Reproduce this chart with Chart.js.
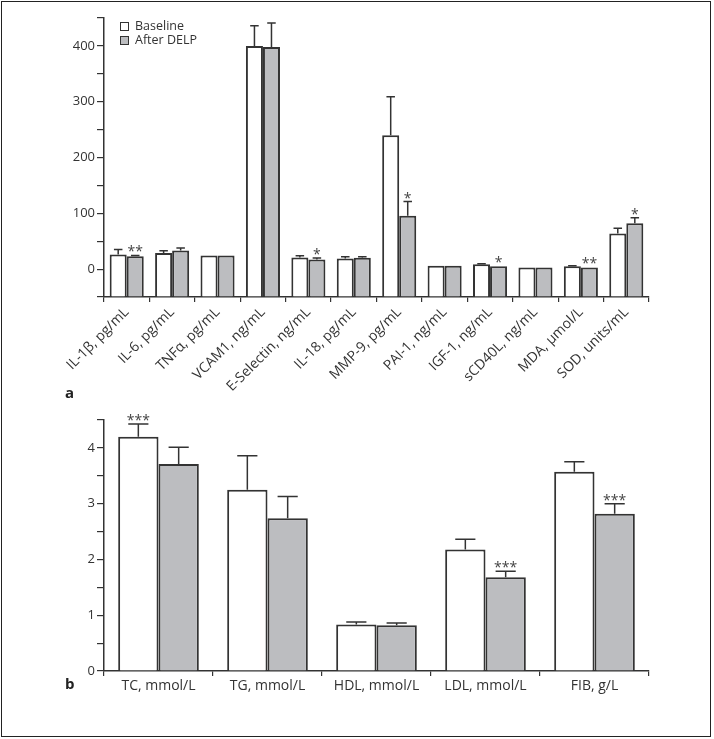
<!DOCTYPE html>
<html>
<head>
<meta charset="utf-8">
<script src="https://cdn.jsdelivr.net/npm/chart.js@4.4.1/dist/chart.umd.min.js"></script>
<style>
  body { margin: 0; background: #fff; width: 714px; height: 739px; position: relative; overflow: hidden; font-family: "Open Sans", sans-serif; color: #333; }
  #frame { position: absolute; left: 1px; top: 1px; width: 710px; height: 736px; box-sizing: border-box; border: 1.5px solid #222; pointer-events: none; }
  #wrapA { position: absolute; left: 0; top: 0; width: 714px; height: 420px; }
  #wrapB { position: absolute; left: 0; top: 380px; width: 714px; height: 359px; }
  .legend { position: absolute; left: 120px; font-size: 12.5px; line-height: 14px; }
  .legend span.box { display: inline-block; width: 9px; height: 9px; box-sizing: border-box; border: 1.3px solid #333; margin-right: 6px; vertical-align: -1px; }
  .panel { position: absolute; font-weight: bold; font-size: 15px; color: #222; }
</style>
</head>
<body>
<div id="wrapA"><canvas id="chartA"></canvas></div>
<div id="wrapB"><canvas id="chartB"></canvas></div>
<div class="legend" style="top:19px"><span class="box" style="background:#fff"></span>Baseline</div>
<div class="legend" style="top:33px"><span class="box" style="background:#bcbdc0"></span>After DELP</div>
<div class="panel" style="left:65px; top:382px">a</div>
<div class="panel" style="left:65px; top:673px">b</div>
<div id="frame"></div>
<script>
// panel a
var labelsA = ['IL-1β, pg/mL', 'IL-6, pg/mL', 'TNFα, pg/mL', 'VCAM1, ng/mL', 'E-Selectin, ng/mL', 'IL-18, pg/mL',
  'MMP-9, pg/mL', 'PAI-1, ng/mL', 'IGF-1, ng/mL', 'sCD40L, ng/mL', 'MDA, μmol/L', 'SOD, units/mL'];
var baselineA = [26, 29, 24.5, 400, 21, 19, 240, 6, 8.5, 3, 5, 64];
var baselineErrA = [9, 4, 0, 36, 3, 3, 69, 0, 1, 0, 1, 9];
var afterA = [23, 33.5, 24.5, 398, 17, 20.5, 95.5, 6, 5, 3, 3, 82];
var afterErrA = [1.5, 4.5, 0, 43, 3, 1.5, 25.5, 0, 0, 0, 0, 10];
var sigBaselineA = ['', '', '', '', '', '', '', '', '', '', '', ''];
var sigAfterA = ['**', '', '', '', '*', '', '*', '', '*', '', '**', '*'];

// panel b
var labelsB = ['TC, mmol/L', 'TG, mmol/L', 'HDL, mmol/L', 'LDL, mmol/L', 'FIB, g/L'];
var baselineB = [4.2, 3.25, 0.835, 2.18, 3.57];
var baselineErrB = [0.23, 0.61, 0.045, 0.18, 0.18];
var afterB = [3.71, 2.74, 0.82, 1.68, 2.82];
var afterErrB = [0.30, 0.39, 0.04, 0.11, 0.18];
var sigBaselineB = ['***', '', '', '', ''];
var sigAfterB = ['', '', '', '***', '***'];

var ink = '#333';
var grey = '#bcbdc0';
Chart.defaults.font.family = '"Open Sans", sans-serif';
Chart.defaults.font.size = 13;
Chart.defaults.color = ink;

var errorBars = {
  id: 'errorBars',
  afterDatasetsDraw: function (chart) {
    var ctx = chart.ctx;
    var y = chart.scales.y;
    ctx.save();
    chart.data.datasets.forEach(function (ds, i) {
      var meta = chart.getDatasetMeta(i);
      meta.data.forEach(function (bar, j) {
        var err = ds.errors[j];
        var top = y.getPixelForValue(ds.data[j] + err);
        var half = bar.width / 4;
        if (err > 0) {
          ctx.strokeStyle = ink;
          ctx.lineWidth = 1.5;
          ctx.beginPath();
          ctx.moveTo(bar.x, bar.y);
          ctx.lineTo(bar.x, top);
          ctx.moveTo(bar.x - half, top);
          ctx.lineTo(bar.x + half, top);
          ctx.stroke();
        }
        if (ds.sig[j]) {
          ctx.fillStyle = '#444';
          ctx.font = '14px "Open Sans", sans-serif';
          ctx.textAlign = 'center';
          ctx.textBaseline = 'alphabetic';
          ctx.fillText(ds.sig[j], bar.x, top + 1);
        }
      });
    });
    ctx.restore();
  }
};

function makeChart(id, labels, base, baseErr, baseSig, after, afterErr, afterSig, opt) {
  return new Chart(document.getElementById(id), {
    type: 'bar',
    data: {
      labels: labels,
      datasets: [{
        label: 'Baseline',
        data: base,
        errors: baseErr,
        sig: baseSig,
        base: opt.min,
        backgroundColor: '#fff',
        borderColor: ink,
        borderWidth: 2
      }, {
        label: 'After DELP',
        data: after,
        errors: afterErr,
        sig: afterSig,
        base: opt.min,
        backgroundColor: grey,
        borderColor: ink,
        borderWidth: 2
      }]
    },
    options: {
      responsive: true,
      maintainAspectRatio: false,
      animation: false,
      datasets: { bar: { categoryPercentage: opt.cat, barPercentage: 1.0 } },
      layout: { padding: { left: 0, right: 65, top: opt.padTop, bottom: 0 } },
      plugins: { legend: { display: false }, tooltip: { enabled: false } },
      scales: {
        x: {
          grid: { offset: true, drawOnChartArea: false, drawTicks: true, tickLength: 5, color: ink, lineWidth: 1.2 },
          border: { display: true, color: ink, width: 1.5 },
          ticks: { autoSkip: false, minRotation: opt.rot, maxRotation: opt.rot, padding: 2, color: ink, font: { size: 14 } },
          afterFit: function (s) { s.height = opt.xHeight; }
        },
        y: {
          min: opt.min,
          max: opt.max,
          grid: { drawOnChartArea: false, drawTicks: true, tickLength: 7, color: ink, lineWidth: 1.2 },
          border: { display: true, color: ink, width: 1.5 },
          ticks: {
            stepSize: opt.step,
            autoSkip: false,
            padding: 2,
            color: ink,
            font: { size: 13 },
            callback: opt.tickLabel
          },
          afterFit: function (s) { s.width = 104; }
        }
      }
    },
    plugins: [errorBars]
  });
}

makeChart('chartA', labelsA, baselineA, baselineErrA, sigBaselineA, afterA, afterErrA, sigAfterA, {
  min: -50, max: 450, step: 50, cat: 0.75, rot: 45, padTop: 18, xHeight: 123,
  tickLabel: function (v) { return (v >= 0 && v <= 400 && v % 100 === 0) ? v : ''; }
});

makeChart('chartB', labelsB, baselineB, baselineErrB, sigBaselineB, afterB, afterErrB, sigAfterB, {
  min: 0, max: 4.5, step: 0.5, cat: 0.74, rot: 0, padTop: 40, xHeight: 68,
  tickLabel: function (v) { return (v <= 4 && Number.isInteger(v)) ? v : ''; }
});
</script>
</body>
</html>
